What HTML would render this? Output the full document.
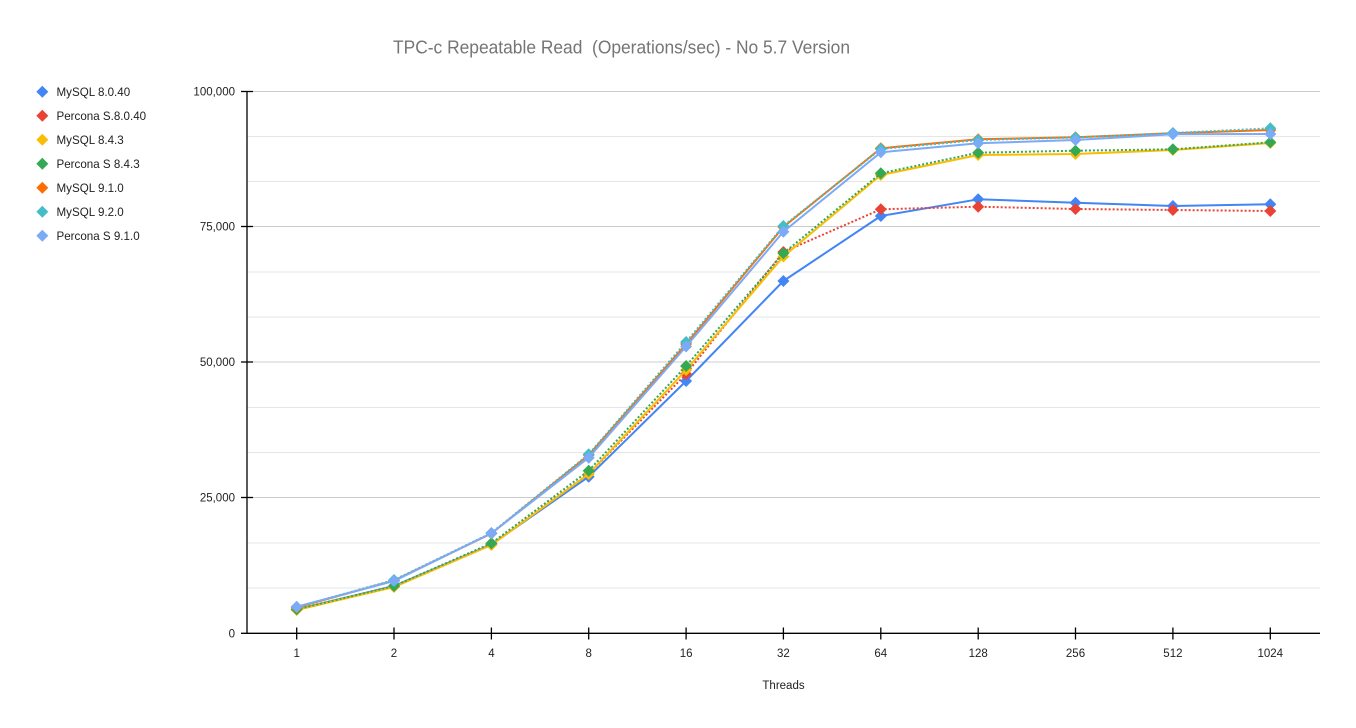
<!DOCTYPE html>
<html><head><meta charset="utf-8"><style>
html,body{margin:0;padding:0;background:#fff;}
svg{display:block;font-family:"Liberation Sans",Arial,sans-serif;}
</style></head><body>
<svg width="1356" height="728" viewBox="0 0 1356 728" xmlns="http://www.w3.org/2000/svg">
<defs><path id="d" d="M0,-6L6,0L0,6L-6,0Z"/><path id="dl" d="M0,-6L6,0L0,6L-6,0Z"/></defs>
<rect width="1356" height="728" fill="#fff"/>
<text x="393" y="53.5" font-size="18.5" fill="#757575" textLength="457" lengthAdjust="spacingAndGlyphs" style="white-space:pre">TPC-c Repeatable Read  (Operations/sec) - No 5.7 Version</text>
<!-- minor gridlines -->
<g stroke="#e6e6e6" stroke-width="1">
<line x1="247" y1="136.5" x2="1320" y2="136.5"/><line x1="247" y1="181.5" x2="1320" y2="181.5"/>
<line x1="247" y1="272" x2="1320" y2="272"/><line x1="247" y1="317" x2="1320" y2="317"/>
<line x1="247" y1="407.5" x2="1320" y2="407.5"/><line x1="247" y1="452.5" x2="1320" y2="452.5"/>
<line x1="247" y1="543" x2="1320" y2="543"/><line x1="247" y1="588" x2="1320" y2="588"/>
</g>
<g stroke="#cccccc" stroke-width="1">
<line x1="247" y1="91.5" x2="1320" y2="91.5"/><line x1="247" y1="226.5" x2="1320" y2="226.5"/>
<line x1="247" y1="362" x2="1320" y2="362"/><line x1="247" y1="497.5" x2="1320" y2="497.5"/>
</g>
<!-- axes -->
<g stroke="#000" stroke-width="1.3">
<line x1="247" y1="91" x2="247" y2="633.5"/>
<line x1="241" y1="633.3" x2="1320" y2="633.3"/>
<line x1="241" y1="91.5" x2="253" y2="91.5"/><line x1="241" y1="226.5" x2="253" y2="226.5"/>
<line x1="241" y1="362" x2="253" y2="362"/><line x1="241" y1="497.5" x2="253" y2="497.5"/>
<line x1="296.7" y1="627.5" x2="296.7" y2="639.5"/><line x1="394" y1="627.5" x2="394" y2="639.5"/>
<line x1="491.4" y1="627.5" x2="491.4" y2="639.5"/><line x1="588.7" y1="627.5" x2="588.7" y2="639.5"/>
<line x1="686.1" y1="627.5" x2="686.1" y2="639.5"/><line x1="783.4" y1="627.5" x2="783.4" y2="639.5"/>
<line x1="880.8" y1="627.5" x2="880.8" y2="639.5"/><line x1="978.2" y1="627.5" x2="978.2" y2="639.5"/>
<line x1="1075.5" y1="627.5" x2="1075.5" y2="639.5"/><line x1="1172.9" y1="627.5" x2="1172.9" y2="639.5"/>
<line x1="1270.3" y1="627.5" x2="1270.3" y2="639.5"/>
</g>
<!-- y labels -->
<g font-size="11.5" fill="#222" text-anchor="end">
<text x="235" y="95.5">100,000</text><text x="235" y="230.5">75,000</text>
<text x="235" y="366">50,000</text><text x="235" y="501.5">25,000</text>
<text x="235" y="637.5">0</text>
</g>
<g font-size="11.5" fill="#222" text-anchor="middle">
<text x="296.7" y="657">1</text><text x="394" y="657">2</text><text x="491.4" y="657">4</text>
<text x="588.7" y="657">8</text><text x="686.1" y="657">16</text><text x="783.4" y="657">32</text>
<text x="880.8" y="657">64</text><text x="978.2" y="657">128</text><text x="1075.5" y="657">256</text>
<text x="1172.9" y="657">512</text><text x="1270.3" y="657">1024</text>
<text x="783.5" y="689">Threads</text>
</g>
<!-- series -->
<g fill="none" stroke-width="2" stroke-linejoin="round">
<polyline stroke="#4285F4" points="296.7,609.5 394,586 491.4,544.5 588.7,476.7 686.1,381 783.4,281 880.8,216 978.2,199.3 1075.5,202.7 1172.9,206 1270.3,204.3"/>
</g>
<g fill="#4285F4">
<use href="#d" x="296.7" y="609.5"/><use href="#d" x="394" y="586"/><use href="#d" x="491.4" y="544.5"/><use href="#d" x="588.7" y="476.7"/><use href="#d" x="686.1" y="381"/><use href="#d" x="783.4" y="281"/><use href="#d" x="880.8" y="216"/><use href="#d" x="978.2" y="199.3"/><use href="#d" x="1075.5" y="202.7"/><use href="#d" x="1172.9" y="206"/><use href="#d" x="1270.3" y="204.3"/>
</g>
<polyline fill="none" stroke="#EA4335" stroke-width="2" stroke-dasharray="2,2" points="296.7,609.5 394,586.5 491.4,544 588.7,474 686.1,374 783.4,252 880.8,209.3 978.2,206.7 1075.5,209 1172.9,210 1270.3,211"/>
<g fill="#EA4335">
<use href="#d" x="296.7" y="609.5"/><use href="#d" x="394" y="586.5"/><use href="#d" x="491.4" y="544"/><use href="#d" x="588.7" y="474"/><use href="#d" x="686.1" y="374"/><use href="#d" x="783.4" y="252"/><use href="#d" x="880.8" y="209.3"/><use href="#d" x="978.2" y="206.7"/><use href="#d" x="1075.5" y="209"/><use href="#d" x="1172.9" y="210"/><use href="#d" x="1270.3" y="211"/>
</g>
<polyline fill="none" stroke="#FBBC04" stroke-width="2" points="296.7,610 394,587 491.4,545 588.7,474 686.1,370 783.4,256.5 880.8,175 978.2,155 1075.5,154 1172.9,150 1270.3,143"/>
<g fill="#FBBC04">
<use href="#d" x="296.7" y="610"/><use href="#d" x="394" y="587"/><use href="#d" x="491.4" y="545"/><use href="#d" x="588.7" y="474"/><use href="#d" x="686.1" y="370"/><use href="#d" x="783.4" y="256.5"/><use href="#d" x="880.8" y="175"/><use href="#d" x="978.2" y="155"/><use href="#d" x="1075.5" y="154"/><use href="#d" x="1172.9" y="150"/><use href="#d" x="1270.3" y="143"/>
</g>
<polyline fill="none" stroke="#34A853" stroke-width="2" stroke-dasharray="2,2" points="296.7,609.3 394,586 491.4,543.3 588.7,470.7 686.1,366 783.4,253.3 880.8,173.3 978.2,152.7 1075.5,150.7 1172.9,149.3 1270.3,142.3"/>
<g fill="#34A853">
<use href="#d" x="296.7" y="609.3"/><use href="#d" x="394" y="586"/><use href="#d" x="491.4" y="543.3"/><use href="#d" x="588.7" y="470.7"/><use href="#d" x="686.1" y="366"/><use href="#d" x="783.4" y="253.3"/><use href="#d" x="880.8" y="173.3"/><use href="#d" x="978.2" y="152.7"/><use href="#d" x="1075.5" y="150.7"/><use href="#d" x="1172.9" y="149.3"/><use href="#d" x="1270.3" y="142.3"/>
</g>
<polyline fill="none" stroke="#FF6D01" stroke-width="2" points="296.7,607.5 394,580.5 491.4,533.5 588.7,455 686.1,344 783.4,227 880.8,148.3 978.2,139.3 1075.5,137.3 1172.9,133.3 1270.3,130"/>
<g fill="#FF6D01">
<use href="#d" x="296.7" y="607.5"/><use href="#d" x="394" y="580.5"/><use href="#d" x="491.4" y="533.5"/><use href="#d" x="588.7" y="455"/><use href="#d" x="686.1" y="344"/><use href="#d" x="783.4" y="227"/><use href="#d" x="880.8" y="148.3"/><use href="#d" x="978.2" y="139.3"/><use href="#d" x="1075.5" y="137.3"/><use href="#d" x="1172.9" y="133.3"/><use href="#d" x="1270.3" y="130"/>
</g>
<polyline fill="none" stroke="#46BDC6" stroke-width="2" stroke-dasharray="2,2" points="296.7,607 394,580 491.4,533 588.7,454.3 686.1,342 783.4,226 880.8,149 978.2,140 1075.5,137.5 1172.9,133 1270.3,128.3"/>
<g fill="#46BDC6">
<use href="#d" x="296.7" y="607"/><use href="#d" x="394" y="580"/><use href="#d" x="491.4" y="533"/><use href="#d" x="588.7" y="454.3"/><use href="#d" x="686.1" y="342"/><use href="#d" x="783.4" y="226"/><use href="#d" x="880.8" y="149"/><use href="#d" x="978.2" y="140"/><use href="#d" x="1075.5" y="137.5"/><use href="#d" x="1172.9" y="133"/><use href="#d" x="1270.3" y="128.3"/>
</g>
<polyline fill="none" stroke="#7BAAF7" stroke-width="2" points="296.7,606.7 394,581 491.4,533.3 588.7,457.7 686.1,346.5 783.4,231.7 880.8,152.3 978.2,143.3 1075.5,140 1172.9,134.3 1270.3,134"/>
<g fill="#7BAAF7">
<use href="#d" x="296.7" y="606.7"/><use href="#d" x="394" y="581"/><use href="#d" x="491.4" y="533.3"/><use href="#d" x="588.7" y="457.7"/><use href="#d" x="686.1" y="346.5"/><use href="#d" x="783.4" y="231.7"/><use href="#d" x="880.8" y="152.3"/><use href="#d" x="978.2" y="143.3"/><use href="#d" x="1075.5" y="140"/><use href="#d" x="1172.9" y="134.3"/><use href="#d" x="1270.3" y="134"/>
</g>
<!-- legend -->
<g>
<use href="#dl" x="42.3" y="91.7" fill="#4285F4"/>
<use href="#dl" x="42.3" y="115.7" fill="#EA4335"/>
<use href="#dl" x="42.3" y="139.7" fill="#FBBC04"/>
<use href="#dl" x="42.3" y="163.7" fill="#34A853"/>
<use href="#dl" x="42.3" y="187.7" fill="#FF6D01"/>
<use href="#dl" x="42.3" y="211.7" fill="#46BDC6"/>
<use href="#dl" x="42.3" y="235.7" fill="#7BAAF7"/>
</g>
<g font-size="11.6" fill="#222">
<text x="56.5" y="95.8">MySQL 8.0.40</text>
<text x="56.5" y="119.8">Percona S.8.0.40</text>
<text x="56.5" y="143.8">MySQL 8.4.3</text>
<text x="56.5" y="167.8">Percona S 8.4.3</text>
<text x="56.5" y="191.8">MySQL 9.1.0</text>
<text x="56.5" y="215.8">MySQL 9.2.0</text>
<text x="56.5" y="239.8">Percona S 9.1.0</text>
</g>
</svg>
</body></html>
